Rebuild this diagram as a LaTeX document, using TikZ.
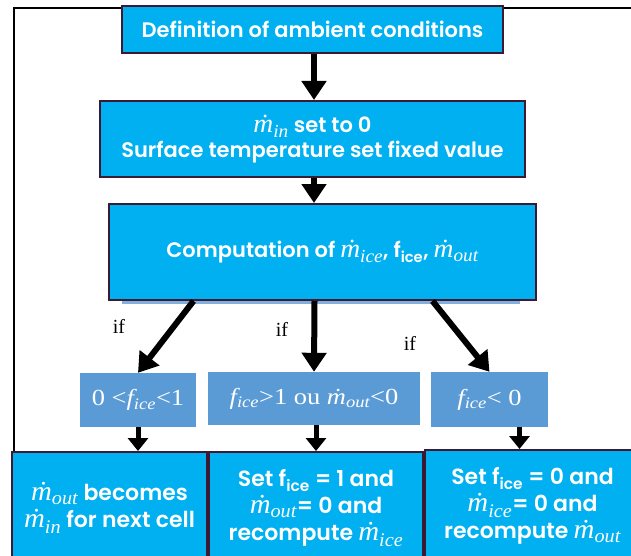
\documentclass[tikz,border=0pt]{standalone}
\usepackage{fontspec}
\setmainfont{Poppins SemiBold}
\newfontfamily\timesfont{Liberation Serif}
\newfontfamily\flowfont{Liberation Serif}[Scale=1.25, FakeStretch=1.05]
\newfontfamily\condfont{Liberation Serif}[FakeStretch=1.15]
\usetikzlibrary{arrows.meta,positioning}

\definecolor{boxblue}{HTML}{00B0F0}
\definecolor{condblue}{HTML}{5B9BD5}
\definecolor{boxedge}{HTML}{3D1A33}
\definecolor{shadeblue}{HTML}{7FB0DE}

% mass flow symbol with dot
\newcommand{\mflow}[1]{{\flowfont\itshape\.{m}}\textsubscript{\flowfont\itshape #1}}

\begin{document}
\begin{tikzpicture}[
    x=1pt, y=-1pt,
    box/.style={rectangle, draw=boxedge, line width=2pt, fill=boxblue, text=white, align=center, inner sep=0pt, font=\fontsize{21}{25}\selectfont},
    result/.style={box, minimum height=112pt, font=\fontsize{22}{27}\selectfont},
    cond/.style={rectangle, fill=condblue, text=white, inner sep=0pt, font=\condfont\fontsize{23}{24}\selectfont},
    iflabel/.style={font=\timesfont\fontsize{20}{22}\selectfont},
    arrow/.style={-{Triangle[width=24pt,length=19pt]}, line width=6pt},
    smallarrow/.style={-{Triangle[width=20pt,length=13pt]}, line width=5pt},
    frame/.style={line width=2.5pt}
]
\clip (0,0) rectangle (631,556);

% Loop back line
\coordinate (loopstart) at (14,570);
\coordinate (loopcorner) at (14,8);
\coordinate (loopend) at (640,8);
\draw[frame] (loopstart) -- (loopcorner) -- (loopend);

% Main column
\node[box, minimum width=381pt, minimum height=47pt] (ambient) at (312.5,29.5) {Definition of ambient conditions};
\node[box, minimum width=425pt, minimum height=76pt, below=46pt of ambient] (init) {\mflow{in} set to 0\\Surface temperature set fixed value};
\fill[shadeblue] (122,299) rectangle (520,304);
\node[box, minimum width=427pt, minimum height=96pt] (compute) at (322.5,252) {Computation of \mflow{ice}, f\textsubscript{ice}, \mflow{out}};

% Conditions
\node[cond, minimum width=116pt, minimum height=54pt] (partial) at (138,400) {0 <{\itshape f}\textsubscript{\itshape ice}<1};
\node[cond, minimum width=212pt, minimum height=53pt] (full) at (314,398.5) {{\itshape f}\textsubscript{\itshape ice}>1 ou {\itshape\.{m}}\textsubscript{\itshape out}<0};
\node[cond, minimum width=117pt, minimum height=55pt] (none) at (489.5,399.5) {{\itshape f}\textsubscript{\itshape ice}< 0};

\node[iflabel] (if1) at (119,326) {if};
\node[iflabel] (if2) at (282,329) {if};
\node[iflabel] (if3) at (410,343) {if};

% Results
\node[result, minimum width=195pt] (nextcell) at (109.5,508) {\mflow{out} becomes\\\mflow{in} for next cell};
\node[result, minimum width=214pt] (setone) at (316,508) {Set f\textsubscript{ice} = 1 and\\\mflow{out}= 0 and\\recompute \mflow{ice}};
\node[result, minimum width=215pt] (setzero) at (532.5,506) {Set f\textsubscript{ice} = 0 and\\\mflow{ice}= 0 and\\recompute \mflow{out}};

% Arrows
\draw[arrow] ([xshift=1.5pt]ambient.south) -- ([xshift=1.5pt]init.north);
\draw[arrow] ([xshift=1.5pt]init.south) -- ([xshift=1.5pt]init.south |- compute.north);
\draw[arrow] ([xshift=-129pt]compute.south) -- (partial.north);
\draw[arrow] ([xshift=-8pt]compute.south) -- (full.north);
\draw[arrow] ([xshift=110pt]compute.south) -- (none.north);
\draw[smallarrow] (partial.south) -- (partial.south |- nextcell.north);
\draw[smallarrow] ([xshift=2pt]full.south) -- ([xshift=2pt]full.south |- setone.north);
\draw[smallarrow] ([xshift=30pt]none.south) -- ([xshift=30pt]none.south |- setzero.north);

\end{tikzpicture}
\end{document}
